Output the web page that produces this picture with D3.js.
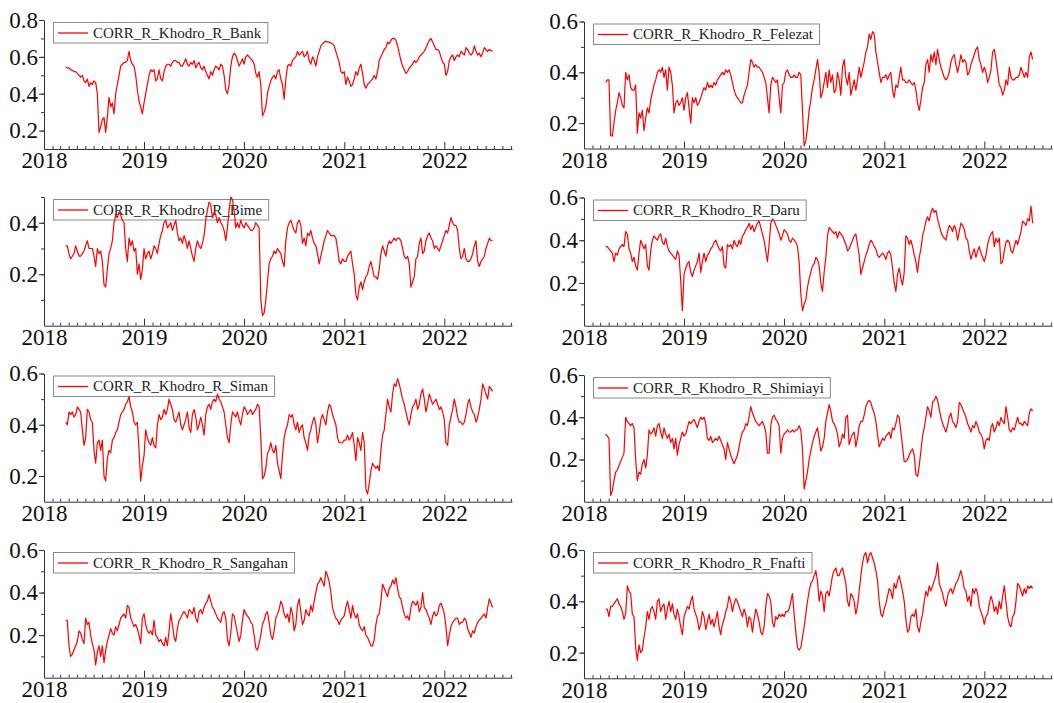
<!DOCTYPE html>
<html><head><meta charset="utf-8">
<script src="https://cdn.jsdelivr.net/npm/d3@7"></script>
<style>
body{margin:0;background:#fff;}
svg text{font-family:"Liberation Serif","Times New Roman",serif;}
</style>
</head><body>
<svg id="c" width="1054" height="703"></svg>
<script>
// ---- data (~6-day sampling starting 2018-03-21) ----
const seriesNames = ["CORR_R_Khodro_R_Bank","CORR_R_Khodro_R_Felezat","CORR_R_Khodro_R_Bime","CORR_R_Khodro_R_Daru",
  "CORR_R_Khodro_R_Siman","CORR_R_Khodro_R_Shimiayi","CORR_R_Khodro_R_Sangahan","CORR_R_Khodro_R_Fnafti"];
const startDate = "2018-03-21";
const stepDays = 6.0875;
const yearTicks = [2018, 2019, 2020, 2021, 2022];
const yMin = [0.1, 0.1, 0.0, 0.0, 0.1, 0.0, 0.0, 0.1];
const yMax = [0.8, 0.6, 0.5, 0.6, 0.6, 0.6, 0.6, 0.6];
const yLabels = [0.2, 0.4, 0.6, 0.8];

const bank = [.545,.54,.54,.53,.527,.52,.52,.51,.50,.49,
 .50,.47,.46,.48,.44,.46,.45,.47,.46,.40,
 .19,.22,.26,.27,.19,.27,.38,.33,.35,.29,
 .40,.45,.50,.55,.56,.57,.57,.58,.63,.58,
 .56,.55,.50,.42,.36,.33,.29,.35,.40,.45,
 .50,.53,.52,.53,.47,.48,.53,.48,.47,.52,
 .55,.56,.56,.55,.57,.58,.58,.57,.57,.55,
 .55,.57,.59,.56,.55,.57,.56,.58,.54,.56,
 .57,.54,.53,.55,.52,.50,.48,.52,.50,.53,
 .55,.54,.53,.56,.55,.50,.42,.40,.45,.55,
 .60,.62,.61,.58,.55,.57,.59,.56,.60,.61,
 .60,.59,.58,.56,.51,.49,.52,.45,.28,.30,
 .33,.40,.44,.47,.49,.50,.48,.52,.53,.48,
 .45,.37,.48,.55,.56,.55,.58,.59,.60,.63,
 .61,.62,.63,.60,.61,.63,.58,.56,.60,.58,
 .55,.60,.63,.66,.67,.68,.685,.68,.68,.675,
 .67,.66,.63,.60,.57,.52,.51,.52,.45,.49,
 .47,.44,.45,.48,.52,.50,.54,.56,.51,.45,
 .43,.45,.46,.47,.48,.50,.48,.52,.58,.60,
 .62,.64,.65,.68,.67,.69,.70,.70,.69,.66,
 .62,.58,.55,.53,.51,.52,.54,.55,.56,.58,
 .57,.58,.60,.61,.62,.63,.65,.67,.69,.70,
 .68,.66,.64,.64,.63,.60,.57,.56,.50,.52,
 .58,.60,.61,.58,.60,.61,.60,.63,.62,.61,
 .65,.64,.62,.61,.62,.66,.63,.61,.62,.60,
 .62,.65,.64,.63,.64,.635,.63];
const felezat = [.36,.37,.37,.15,.15,.20,.25,.28,.32,.30,
 .27,.26,.40,.37,.39,.34,.33,.33,.35,.16,
 .24,.22,.25,.17,.22,.26,.24,.29,.32,.35,
 .37,.40,.41,.40,.42,.38,.41,.33,.42,.40,
 .35,.24,.28,.29,.27,.28,.30,.25,.30,.32,
 .26,.20,.30,.28,.30,.27,.28,.30,.32,.34,
 .33,.36,.34,.35,.34,.36,.35,.37,.38,.39,
 .40,.39,.41,.40,.41,.39,.36,.33,.31,.30,
 .29,.28,.28,.31,.33,.35,.40,.45,.44,.42,
 .43,.42,.42,.41,.40,.38,.36,.30,.24,.35,
 .38,.37,.36,.37,.30,.24,.35,.36,.40,.41,
 .39,.38,.38,.39,.38,.38,.40,.39,.25,.11,
 .13,.18,.25,.29,.34,.37,.41,.45,.40,.30,
 .32,.36,.40,.34,.41,.36,.39,.32,.33,.40,
 .37,.31,.42,.45,.38,.35,.40,.31,.34,.37,
 .33,.37,.42,.38,.41,.44,.48,.50,.55,.53,
 .56,.55,.48,.44,.40,.36,.38,.38,.39,.37,
 .39,.40,.33,.30,.35,.34,.38,.42,.37,.37,
 .36,.36,.37,.36,.35,.36,.33,.28,.25,.29,
 .34,.36,.43,.45,.40,.47,.44,.48,.43,.49,
 .45,.42,.40,.38,.37,.38,.40,.44,.46,.47,
 .43,.40,.43,.47,.44,.45,.44,.39,.40,.43,
 .45,.47,.49,.50,.45,.43,.40,.42,.40,.36,
 .38,.41,.48,.49,.45,.40,.35,.34,.31,.33,
 .37,.35,.42,.38,.37,.37,.38,.38,.39,.42,
 .40,.38,.40,.38,.46,.48,.45];
const bime = [.31,.31,.28,.26,.27,.28,.31,.29,.27,.27,
 .28,.29,.31,.33,.30,.30,.30,.27,.23,.30,
 .28,.29,.25,.16,.15,.22,.28,.30,.33,.40,
 .43,.42,.44,.43,.41,.40,.30,.25,.34,.31,
 .33,.29,.30,.20,.24,.18,.22,.30,.26,.28,
 .29,.26,.28,.31,.30,.28,.32,.35,.37,.40,
 .41,.38,.39,.40,.37,.39,.41,.36,.33,.34,
 .32,.35,.33,.30,.33,.30,.27,.25,.30,.33,
 .31,.30,.32,.35,.41,.45,.48,.47,.42,.44,
 .43,.40,.42,.40,.39,.37,.33,.38,.45,.50,
 .49,.45,.38,.40,.38,.41,.39,.38,.40,.39,
 .38,.37,.37,.38,.40,.39,.38,.10,.04,.05,
 .10,.17,.24,.26,.27,.29,.28,.30,.29,.28,
 .25,.23,.33,.38,.40,.41,.39,.37,.36,.40,
 .41,.39,.32,.34,.31,.36,.35,.37,.34,.32,
 .31,.28,.24,.27,.30,.33,.35,.37,.36,.35,
 .35,.35,.34,.30,.25,.24,.26,.25,.25,.27,
 .28,.29,.24,.20,.12,.10,.15,.17,.14,.17,
 .19,.20,.23,.25,.22,.19,.19,.18,.22,.28,
 .31,.29,.27,.31,.33,.32,.33,.34,.33,.34,
 .34,.33,.30,.27,.26,.27,.24,.15,.17,.19,
 .26,.27,.32,.34,.28,.29,.33,.35,.36,.34,
 .33,.30,.31,.30,.29,.31,.33,.35,.37,.36,
 .39,.42,.40,.39,.39,.37,.30,.26,.27,.30,
 .26,.25,.25,.26,.28,.31,.33,.25,.23,.25,
 .26,.27,.30,.32,.34,.33,.33];
const daru = [.37,.37,.36,.35,.34,.30,.34,.33,.36,.37,
 .38,.37,.44,.43,.36,.34,.30,.32,.28,.26,
 .34,.40,.38,.36,.38,.28,.26,.35,.40,.42,
 .41,.40,.42,.43,.39,.38,.41,.37,.35,.34,
 .33,.32,.31,.35,.33,.21,.07,.24,.27,.29,
 .30,.25,.23,.26,.28,.30,.34,.25,.30,.34,
 .30,.33,.34,.36,.37,.39,.40,.38,.36,.35,
 .37,.28,.27,.38,.37,.38,.36,.40,.38,.37,
 .40,.38,.42,.43,.45,.46,.48,.45,.47,.44,
 .46,.48,.49,.46,.43,.40,.35,.30,.38,.48,
 .50,.49,.47,.45,.43,.40,.42,.45,.44,.43,
 .40,.39,.41,.40,.39,.37,.30,.15,.07,.10,
 .12,.18,.22,.25,.28,.29,.32,.31,.28,.20,
 .16,.25,.32,.42,.46,.45,.44,.43,.44,.41,
 .44,.43,.42,.40,.38,.35,.36,.38,.40,.42,
 .43,.38,.33,.24,.27,.30,.33,.35,.38,.40,
 .39,.37,.36,.33,.32,.33,.34,.33,.31,.34,
 .35,.33,.27,.20,.16,.24,.27,.22,.19,.25,
 .42,.41,.38,.40,.37,.33,.30,.25,.32,.36,
 .42,.45,.49,.51,.49,.53,.55,.53,.54,.50,
 .47,.44,.42,.41,.40,.44,.47,.46,.44,.47,
 .45,.40,.44,.48,.47,.45,.41,.40,.35,.31,
 .34,.36,.32,.35,.37,.34,.32,.30,.33,.38,
 .41,.43,.44,.37,.41,.39,.41,.29,.30,.35,
 .39,.40,.39,.35,.34,.37,.40,.38,.41,.44,
 .49,.48,.47,.50,.49,.56,.48];
const siman = [.41,.40,.45,.44,.45,.43,.44,.47,.46,.45,
 .38,.32,.35,.46,.45,.42,.41,.30,.25,.33,
 .34,.30,.34,.20,.18,.27,.30,.29,.34,.35,
 .37,.38,.41,.44,.45,.46,.48,.49,.51,.47,
 .45,.41,.40,.41,.30,.18,.24,.28,.38,.35,
 .33,.32,.35,.32,.31,.40,.44,.42,.43,.46,
 .44,.46,.50,.48,.46,.42,.41,.43,.45,.40,
 .38,.40,.42,.45,.39,.37,.44,.46,.43,.38,
 .40,.43,.40,.36,.44,.47,.48,.46,.49,.50,
 .49,.52,.50,.49,.47,.45,.40,.35,.33,.40,
 .45,.44,.43,.45,.42,.40,.44,.47,.46,.44,
 .45,.46,.44,.45,.46,.48,.47,.35,.19,.20,
 .23,.29,.30,.33,.30,.29,.32,.25,.22,.19,
 .28,.35,.38,.40,.44,.43,.44,.40,.38,.41,
 .37,.39,.40,.35,.33,.30,.36,.38,.41,.43,
 .40,.33,.37,.42,.44,.42,.40,.45,.48,.47,
 .44,.42,.40,.35,.33,.33,.33,.34,.34,.36,
 .34,.35,.37,.32,.26,.35,.33,.30,.37,.33,
 .15,.13,.17,.22,.25,.24,.23,.24,.22,.30,
 .36,.38,.44,.50,.47,.45,.52,.56,.55,.58,
 .56,.53,.50,.48,.45,.42,.40,.44,.47,.48,
 .50,.46,.48,.52,.54,.50,.45,.48,.52,.50,
 .48,.49,.50,.48,.46,.47,.45,.42,.33,.32,
 .40,.43,.46,.50,.47,.43,.41,.41,.40,.41,
 .44,.48,.50,.47,.45,.44,.41,.43,.46,.50,
 .56,.54,.52,.50,.55,.54,.53];
const shimiayi = [.32,.31,.30,.03,.05,.10,.14,.15,.17,.19,
 .21,.23,.40,.38,.37,.36,.37,.35,.20,.10,
 .14,.13,.18,.20,.16,.22,.34,.32,.33,.35,
 .31,.36,.37,.33,.30,.35,.32,.30,.32,.28,
 .30,.25,.30,.22,.27,.30,.33,.31,.32,.35,
 .38,.37,.38,.39,.37,.35,.38,.40,.39,.40,
 .37,.30,.29,.31,.28,.29,.30,.29,.31,.29,
 .27,.25,.20,.28,.25,.22,.20,.18,.20,.22,
 .26,.30,.33,.34,.37,.36,.40,.45,.42,.40,
 .38,.37,.36,.37,.38,.36,.33,.23,.23,.36,
 .40,.41,.39,.38,.36,.23,.30,.32,.33,.34,
 .33,.33,.34,.33,.34,.34,.36,.34,.25,.06,
 .10,.14,.20,.24,.28,.31,.33,.35,.30,.24,
 .26,.30,.38,.42,.46,.43,.38,.37,.35,.32,
 .26,.28,.32,.30,.40,.41,.27,.30,.32,.33,
 .26,.30,.36,.38,.38,.41,.45,.47,.48,.47,
 .44,.42,.38,.32,.26,.28,.30,.29,.31,.32,
 .33,.30,.35,.34,.37,.41,.40,.33,.26,.19,
 .19,.20,.22,.24,.25,.22,.13,.12,.17,.24,
 .31,.35,.40,.45,.43,.40,.47,.48,.50,.48,
 .44,.40,.37,.35,.33,.36,.40,.42,.38,.37,
 .35,.38,.47,.46,.44,.42,.40,.37,.35,.33,
 .36,.35,.38,.36,.33,.32,.30,.25,.29,.30,
 .29,.35,.37,.33,.35,.38,.36,.40,.38,.37,
 .45,.40,.34,.33,.35,.34,.37,.40,.37,.37,
 .36,.38,.37,.36,.42,.44,.43];
const sangahan = [.27,.27,.15,.10,.11,.13,.15,.17,.22,.21,
 .18,.16,.28,.25,.26,.20,.16,.13,.06,.12,
 .15,.10,.15,.07,.13,.17,.20,.23,.21,.20,
 .24,.22,.25,.28,.29,.30,.28,.34,.33,.28,
 .26,.24,.25,.23,.20,.16,.28,.30,.25,.22,
 .21,.22,.20,.27,.20,.19,.17,.18,.16,.15,
 .19,.15,.22,.30,.25,.19,.17,.23,.27,.28,
 .30,.31,.30,.28,.32,.31,.30,.33,.28,.26,
 .31,.32,.30,.33,.35,.36,.39,.36,.33,.32,
 .30,.28,.27,.26,.30,.31,.28,.18,.15,.21,
 .30,.29,.25,.21,.17,.20,.27,.32,.30,.29,
 .28,.26,.25,.20,.14,.13,.16,.20,.25,.27,
 .30,.31,.26,.20,.18,.22,.28,.30,.32,.36,
 .34,.30,.28,.30,.26,.33,.30,.22,.25,.34,
 .37,.31,.25,.27,.32,.30,.29,.34,.31,.36,
 .40,.44,.45,.47,.45,.43,.50,.48,.45,.40,
 .33,.30,.28,.27,.25,.27,.28,.29,.33,.36,
 .32,.28,.34,.30,.28,.30,.25,.23,.22,.24,
 .20,.19,.17,.15,.15,.18,.25,.29,.30,.36,
 .44,.42,.40,.38,.42,.43,.46,.44,.47,.42,
 .38,.37,.33,.30,.28,.29,.27,.33,.36,.35,
 .34,.36,.31,.33,.40,.33,.32,.30,.28,.25,
 .29,.31,.29,.30,.34,.35,.33,.30,.24,.15,
 .20,.24,.26,.27,.28,.28,.25,.26,.26,.28,
 .27,.23,.21,.19,.22,.21,.24,.26,.27,.28,
 .29,.30,.28,.33,.37,.35,.33];
const fnafti = [.37,.37,.34,.38,.38,.39,.40,.41,.39,.38,
 .36,.33,.35,.46,.44,.43,.35,.34,.22,.17,
 .23,.20,.21,.26,.30,.36,.33,.37,.38,.36,
 .33,.40,.41,.36,.38,.39,.33,.37,.40,.36,
 .39,.35,.33,.37,.34,.30,.27,.34,.36,.38,
 .37,.40,.42,.37,.35,.33,.29,.31,.36,.34,
 .29,.32,.35,.31,.33,.30,.33,.36,.30,.27,
 .31,.33,.36,.38,.42,.40,.36,.39,.41,.40,
 .38,.36,.34,.37,.35,.30,.34,.33,.28,.33,
 .37,.35,.32,.28,.27,.30,.38,.43,.42,.40,
 .32,.30,.34,.33,.35,.34,.35,.34,.36,.36,
 .37,.40,.43,.35,.28,.22,.21,.22,.26,.30,
 .35,.40,.44,.47,.48,.50,.52,.48,.40,.44,
 .42,.36,.43,.44,.42,.46,.50,.52,.53,.50,
 .50,.52,.53,.50,.47,.40,.38,.43,.42,.40,
 .35,.38,.44,.50,.55,.58,.59,.55,.58,.59,
 .57,.55,.52,.48,.40,.35,.34,.37,.39,.42,
 .45,.44,.41,.47,.45,.48,.50,.47,.44,.40,
 .33,.28,.29,.34,.35,.34,.37,.30,.28,.32,
 .35,.40,.44,.42,.46,.44,.46,.48,.50,.55,
 .47,.45,.43,.40,.38,.42,.44,.45,.43,.45,
 .47,.48,.50,.52,.49,.45,.44,.40,.42,.38,
 .45,.43,.45,.43,.38,.36,.34,.31,.34,.35,
 .39,.42,.40,.36,.38,.35,.40,.37,.42,.46,
 .40,.34,.31,.30,.34,.35,.40,.47,.46,.44,
 .42,.45,.43,.46,.45,.46,.45];

const allSeries = [bank, felezat, bime, daru, siman, shimiayi, sangahan, fnafti];

// ---- layout ----
const colX = [44, 584];
const axisW = 468;
const tops = [20, 21.5, 197, 197.5, 373.5, 375, 550, 550];
const bottoms = [149, 148.5, 325.7, 325.7, 501.7, 501.7, 677.7, 678.3];
const fontAxis = 23;

const svg = d3.select("#c");
const t0 = d3.timeParse("%Y-%m-%d")(startDate).getTime();
const axisStart = new Date(2018, 0, 1);
const axisEnd = new Date(2022, 8, 5);

allSeries.forEach((vals, k) => {
  const x0 = colX[k % 2];
  const top = tops[k], bot = bottoms[k];
  const dates = vals.map((v, i) => new Date(t0 + i * stepDays * 864e5));
  const x = d3.scaleTime().domain([axisStart, axisEnd]).range([x0, x0 + axisW]);
  const y = d3.scaleLinear().domain([yMin[k], yMax[k]]).range([bot, top]);
  const g = svg.append("g");

  // legend (drawn first, line passes over it)
  const lg = g.append("g");
  const ly = top + 13;
  const tx = lg.append("text").attr("x", x0 + 49).attr("y", ly).attr("dy", "0.33em")
    .attr("font-size", 15).attr("fill", "#222").text(seriesNames[k]);
  const tw = tx.node().getComputedTextLength();
  lg.insert("rect", "text").attr("x", x0 + 9.5).attr("y", top + 2.5)
    .attr("width", 40 + tw + 6).attr("height", 20.5)
    .attr("fill", "none").attr("stroke", "#8a8a8a").attr("stroke-width", 1);
  lg.append("line").attr("x1", x0 + 14).attr("x2", x0 + 44).attr("y1", ly).attr("y2", ly)
    .attr("stroke", "#ff0000").attr("stroke-width", 1.3);

  // series line
  const line = d3.line().x((d, i) => x(dates[i])).y(d => y(d));
  g.append("path").datum(vals).attr("d", line).attr("fill", "none")
    .attr("stroke", "#ff0000").attr("stroke-width", 1.2).attr("stroke-linejoin", "round");

  // x axis minor (monthly) ticks
  const months = d3.timeMonth.range(axisStart, axisEnd).filter(d => d.getMonth() !== 0);
  g.append("g").attr("transform", `translate(0,${bot})`)
    .call(d3.axisBottom(x).tickValues(months).tickSize(-3).tickSizeOuter(0).tickFormat(""))
    .call(a => a.select(".domain").remove());
  // x axis major
  const xa = g.append("g").attr("transform", `translate(0,${bot})`)
    .call(d3.axisBottom(x).tickValues(yearTicks.map(yy => new Date(yy, 0, 1)))
      .tickSize(-7).tickSizeOuter(0).tickPadding(3).tickFormat(d3.timeFormat("%Y")));
  xa.selectAll("text").attr("font-size", fontAxis).attr("fill", "#111").attr("y", 3).attr("dy", "0.71em");

  // y axis minor ticks (0.1 step)
  const minorY = d3.range(Math.round(yMin[k] * 10) + 1, Math.round(yMax[k] * 10) + 1).map(v => v / 10);
  g.append("g").attr("transform", `translate(${x0},0)`)
    .call(d3.axisLeft(y).tickValues(minorY).tickSize(3).tickSizeOuter(0).tickFormat(""))
    .call(a => a.select(".domain").remove());
  const ya = g.append("g").attr("transform", `translate(${x0},0)`)
    .call(d3.axisLeft(y).tickValues(yLabels.filter(v => v >= yMin[k] && v <= yMax[k] + 1e-9))
      .tickSize(5).tickSizeOuter(0).tickPadding(1).tickFormat(d3.format(".1f")));
  ya.selectAll("text").attr("font-size", fontAxis).attr("fill", "#111");

  g.selectAll(".domain").attr("stroke", "#333");
  g.selectAll(".tick line").attr("stroke", "#333");
});
</script>
</body></html>
